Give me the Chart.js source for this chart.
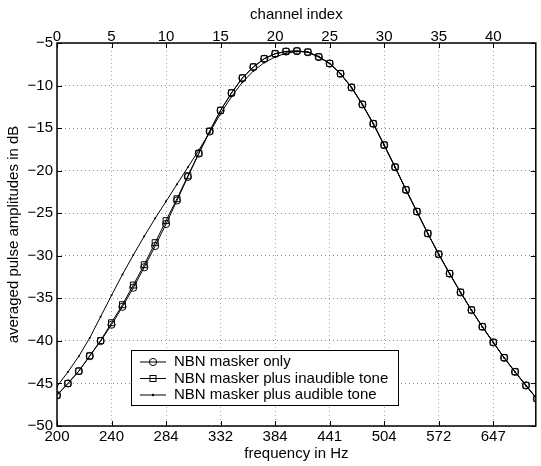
<!DOCTYPE html>
<html><head><meta charset="utf-8">
<script src="https://cdn.jsdelivr.net/npm/chart.js@4.4.1/dist/chart.umd.min.js"></script>
<style>html,body{margin:0;padding:0;background:#fff}</style>
</head><body>
<canvas id="c" width="541" height="466" style="display:block;width:541px;height:466px"></canvas>
<script>
const channels = [0,1,2,3,4,5,6,7,8,9,10,11,12,13,14,15,16,17,18,19,20,21,22,23,24,25,26,27,28,29,30,31,32,33,34,35,36,37,38,39,40,41,42,43,44];
const channelTicks = [0,5,10,15,20,25,30,35,40];
const freqTickLabels = ['200','240','284','332','384','441','504','572','647'];
const maskerOnly = [-46.38,-45.0,-43.55,-41.79,-40.02,-38.1,-35.99,-33.75,-31.35,-28.85,-26.26,-23.5,-20.73,-17.99,-15.4,-12.93,-10.88,-9.12,-7.83,-6.86,-6.28,-6.0,-5.95,-6.08,-6.65,-7.42,-8.61,-10.22,-12.22,-14.49,-17.0,-19.59,-22.26,-24.81,-27.38,-29.82,-32.1,-34.3,-36.38,-38.34,-40.18,-41.99,-43.64,-45.24,-46.8];
const inaudibleTone = [-46.38,-45.0,-43.55,-41.75,-39.95,-37.87,-35.75,-33.44,-31.05,-28.46,-25.87,-23.3,-20.6,-17.95,-15.35,-12.9,-10.85,-9.1,-7.8,-6.84,-6.25,-5.98,-5.93,-6.06,-6.62,-7.4,-8.6,-10.2,-12.2,-14.47,-16.98,-19.57,-22.24,-24.8,-27.37,-29.8,-32.08,-34.28,-36.36,-38.32,-40.16,-41.97,-43.62,-45.22,-46.78];
const audibleTone = [-45.35,-43.65,-41.8,-39.65,-37.15,-34.65,-32.2,-29.9,-27.7,-25.6,-23.6,-21.6,-19.6,-17.6,-15.5,-13.3,-11.3,-9.6,-8.3,-7.3,-6.65,-6.2,-6.0,-6.05,-6.6,-7.4,-8.62,-10.24,-12.24,-14.5,-17.02,-19.6,-22.28,-24.83,-27.4,-29.84,-32.12,-34.32,-36.4,-38.36,-40.2,-42.01,-43.66,-45.26,-46.82];
const seriesLabels = ['NBN masker only','NBN masker plus inaudible tone','NBN masker plus audible tone'];

const FONT = "'Liberation Sans', Arial, Helvetica, sans-serif";
const toXY = arr => channels.map((c, i) => ({x: c, y: arr[i]}));
const minus = v => (v < 0 ? '\u2212' : '') + Math.abs(v);
const setChannelTicks = s => { s.ticks = channelTicks.map(v => ({value: v})); };

const framePlugin = {
  id: 'frame',
  afterDatasetsDraw(chart) {
    const {ctx, chartArea: a, scales} = chart;
    ctx.save();
    ctx.strokeStyle = '#000';
    ctx.lineWidth = 1;
    const tl = 5;
    ctx.beginPath();
    scales.x.ticks.forEach(t => {
      const px = Math.round(scales.x.getPixelForValue(t.value)) + 0.5;
      ctx.moveTo(px, a.bottom); ctx.lineTo(px, a.bottom - tl);
      ctx.moveTo(px, a.top); ctx.lineTo(px, a.top + tl);
    });
    scales.y.ticks.forEach(t => {
      const py = Math.round(scales.y.getPixelForValue(t.value)) + 0.5;
      ctx.moveTo(a.left, py); ctx.lineTo(a.left + tl, py);
      ctx.moveTo(a.right, py); ctx.lineTo(a.right - tl, py);
    });
    ctx.stroke();
    ctx.lineWidth = 1.5;
    ctx.strokeRect(a.left, a.top, a.right - a.left, a.bottom - a.top);
    ctx.restore();
  },
  afterDraw(chart) {
    const {ctx} = chart;
    ctx.save();
    const bx = 131.5, by = 350.5, bw = 267, bh = 55;
    ctx.fillStyle = '#fff';
    ctx.fillRect(bx, by, bw, bh);
    ctx.strokeStyle = '#000';
    ctx.lineWidth = 1;
    ctx.strokeRect(bx, by, bw, bh);
    const rows = [362, 378.5, 395];
    ctx.font = '15px ' + FONT;
    ctx.textBaseline = 'middle';
    ctx.textAlign = 'left';
    chart.data.datasets.forEach((ds, i) => {
      const y = rows[i];
      ctx.strokeStyle = '#000';
      ctx.lineWidth = 1;
      ctx.beginPath(); ctx.moveTo(140, y); ctx.lineTo(166, y); ctx.stroke();
      if (ds.pointStyle === 'circle' && ds.pointRadius > 2) {
        ctx.beginPath(); ctx.arc(153, y, 3.6, 0, Math.PI * 2); ctx.stroke();
      } else if (ds.pointStyle === 'rect') {
        ctx.strokeRect(150, y - 3, 6, 6);
      } else {
        ctx.fillStyle = '#000';
        ctx.beginPath(); ctx.arc(153, y, 1.2, 0, Math.PI * 2); ctx.fill();
      }
      ctx.fillStyle = '#000';
      ctx.fillText(ds.label, 174, y);
    });
    ctx.restore();
  }
};

new Chart(document.getElementById('c'), {
  type: 'line',
  data: {
    datasets: [
      {label: seriesLabels[0], data: toXY(maskerOnly), borderColor: '#000', borderWidth: 1, pointStyle: 'circle', pointRadius: 3.6, pointBorderColor: '#000', pointBackgroundColor: 'rgba(0,0,0,0)', pointBorderWidth: 1, tension: 0},
      {label: seriesLabels[1], data: toXY(inaudibleTone), borderColor: '#000', borderWidth: 1, pointStyle: 'rect', pointRadius: 4.2, pointBorderColor: '#000', pointBackgroundColor: 'rgba(0,0,0,0)', pointBorderWidth: 1, tension: 0},
      {label: seriesLabels[2], data: toXY(audibleTone), borderColor: '#000', borderWidth: 1, pointStyle: 'circle', pointRadius: 1, pointBorderColor: '#000', pointBackgroundColor: '#000', pointBorderWidth: 0, tension: 0}
    ]
  },
  options: {
    responsive: false,
    animation: false,
    devicePixelRatio: 1,
    layout: {padding: {left: 0, right: 1.5, top: 0, bottom: 0}},
    plugins: {legend: {display: false}, tooltip: {enabled: false}},
    scales: {
      x: {
        type: 'linear', position: 'bottom', min: 0, max: 43.9,
        afterBuildTicks: setChannelTicks,
        afterFit: s => { s.height = 40; },
        ticks: {autoSkip: false, maxRotation: 0, padding: 3, color: '#000',
          font: {family: FONT, size: 15, lineHeight: 1},
          callback: v => freqTickLabels[channelTicks.indexOf(v)] ?? ''},
        grid: {display: true, drawTicks: false, tickLength: 0, color: '#aaa', lineWidth: 1},
        border: {display: false, dash: [1, 3]},
        title: {display: true, text: 'frequency in Hz', color: '#000', font: {family: FONT, size: 15}, padding: {top: 0, bottom: 3}}
      },
      xTop: {
        type: 'linear', position: 'top', min: 0, max: 43.9,
        afterBuildTicks: setChannelTicks,
        afterFit: s => { s.height = 43; },
        ticks: {autoSkip: false, maxRotation: 0, padding: -1, color: '#000',
          font: {family: FONT, size: 15, lineHeight: 1},
          callback: v => String(v)},
        grid: {display: false, drawTicks: false, tickLength: 0},
        border: {display: false},
        title: {display: true, text: 'channel index', color: '#000', font: {family: FONT, size: 15}, padding: {top: 6, bottom: 0}}
      },
      y: {
        type: 'linear', min: -50, max: -5,
        afterFit: s => { s.width = 57; },
        ticks: {stepSize: 5, autoSkip: false, padding: 4, color: '#000',
          font: {family: FONT, size: 15, lineHeight: 1},
          callback: v => minus(v)},
        grid: {display: true, drawTicks: false, tickLength: 0, color: '#888', lineWidth: 1},
        border: {display: false, dash: [1, 3]},
        title: {display: true, text: 'averaged pulse amplitudes in dB', color: '#000', font: {family: FONT, size: 15}, padding: {top: 5, bottom: 0}}
      }
    }
  },
  plugins: [framePlugin]
});
</script>
</body></html>
